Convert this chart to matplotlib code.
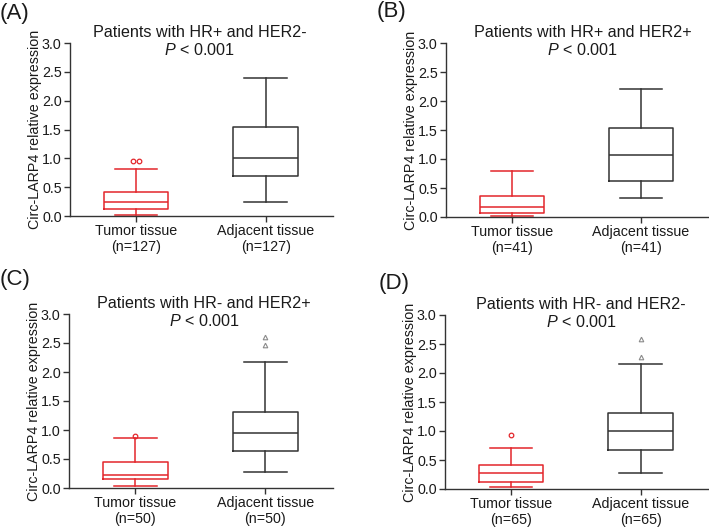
import matplotlib
matplotlib.use("Agg")
import matplotlib.pyplot as plt

plt.rcParams['font.family'] = ['Liberation Sans', 'DejaVu Sans']
plt.rcParams['mathtext.fontset'] = 'custom'
plt.rcParams['mathtext.rm'] = 'Liberation Sans'
plt.rcParams['mathtext.it'] = 'Liberation Sans:italic'

# ---------------- data ----------------
panel_letters = ["(A)", "(B)", "(C)", "(D)"]
panel_titles = ["Patients with HR+ and HER2-", "Patients with HR+ and HER2+",
                "Patients with HR- and HER2+", "Patients with HR- and HER2-"]
p_text = "$P$ < 0.001"
group_names = ["Tumor tissue", "Adjacent tissue"]
n_values = [127, 41, 50, 65]

# box statistics: [whisker low, Q1, median, Q3, whisker high]
tumor_stats = [
    [0.02, 0.13, 0.24, 0.41, 0.82],
    [0.01, 0.07, 0.18, 0.37, 0.80],
    [0.03, 0.16, 0.23, 0.44, 0.86],
    [0.03, 0.12, 0.27, 0.42, 0.70],
]
adjacent_stats = [
    [0.25, 0.70, 1.00, 1.55, 2.40],
    [0.32, 0.62, 1.07, 1.53, 2.21],
    [0.27, 0.64, 0.95, 1.31, 2.18],
    [0.27, 0.67, 1.00, 1.31, 2.15],
]
tumor_outliers = [[0.95, 0.95], [], [0.90], [0.93]]
adjacent_outliers = [[], [], [2.61, 2.47], [2.59, 2.28]]

y_ticks = [0.0, 0.5, 1.0, 1.5, 2.0, 2.5, 3.0]

# ---------------- style / layout ----------------
W, H = 709, 528
fig = plt.figure(figsize=(W / 100, H / 100), dpi=100)

# axes rectangles in pixels: (left, right, top(y=3), bottom(y=0))
rects = [(70, 333, 43, 216), (446, 708, 43, 217),
         (69, 333, 314, 488), (445, 708, 315, 489)]
title_x = [0.49, 0.55, 0.53, 0.54]
letter_pos = [(0, 13), (377, 12), (0, 280), (379, 283)]

red = '#e3262b'
gray = '#333333'
flier_gray = '#8a8a8a'
fs = 10.3

for i in range(4):
    l, r, t, b = rects[i]
    ax = fig.add_axes([l / W, 1 - b / H, (r - l) / W, (b - t) / H])
    stats = []
    for s in (tumor_stats[i], adjacent_stats[i]):
        stats.append(dict(whislo=s[0], q1=s[1], med=s[2], q3=s[3], whishi=s[4], fliers=[]))
    colors = [red, gray]
    for k, st in enumerate(stats):
        c = colors[k]
        ax.bxp([st], positions=[k], widths=0.5, showfliers=False, patch_artist=False,
               boxprops=dict(color=c, linewidth=1.1),
               medianprops=dict(color=c, linewidth=1.1),
               whiskerprops=dict(color=c, linewidth=1.1),
               capprops=dict(color=c, linewidth=1.1),
               capwidths=0.33)
    # outliers
    to = tumor_outliers[i]
    if len(to) > 1:
        offs = [-0.023 + 0.046 * j / (len(to) - 1) for j in range(len(to))]
    else:
        offs = [0.0] * len(to)
    for o, v in zip(offs, to):
        ax.plot(0 + o, v, marker='o', markersize=3.3, mfc='none', mec=red, mew=0.9, ls='none')
    for v in adjacent_outliers[i]:
        ax.plot(1, v, marker='^', markersize=3.3, mfc='none', mec=flier_gray, mew=0.8, ls='none')

    ax.set_xlim(-0.51, 1.52)
    ax.set_ylim(0, 3.0)
    ax.set_yticks(y_ticks)
    ax.set_yticklabels([f"{v:.1f}" for v in y_ticks], fontsize=fs)
    ax.set_xticks([0, 1])
    ax.set_xticklabels([f"{g}\n(n={n_values[i]})" for g in group_names], fontsize=fs,
                       linespacing=1.15)
    ax.spines['top'].set_visible(False)
    ax.spines['right'].set_visible(False)
    for sp in ('left', 'bottom'):
        ax.spines[sp].set_color(gray)
        ax.spines[sp].set_linewidth(1.0)
    ax.tick_params(axis='both', direction='out', length=4, width=1.0, color=gray,
                   labelcolor='#1a1a1a', pad=2)
    ax.set_ylabel("Circ-LARP4 relative expression", fontsize=fs, color='#1a1a1a')
    ax.yaxis.set_label_coords(-0.105, 0.5)
    ax.patch.set_alpha(0)

    # titles
    ax.text(title_x[i], 3.0 + 0.18, panel_titles[i], transform=ax.transData,
            ha='center', va='center', fontsize=11.6, color='#1a1a1a', clip_on=False)
    ax.text(title_x[i], 3.0 - 0.12, p_text, transform=ax.transData,
            ha='center', va='center', fontsize=11.6, color='#1a1a1a', clip_on=False)

    lx, ly = letter_pos[i]
    fig.text(lx / W, 1 - ly / H, panel_letters[i], ha='left', va='center',
             fontsize=16, color='#1a1a1a')

fig.savefig("out.png", dpi=100)
